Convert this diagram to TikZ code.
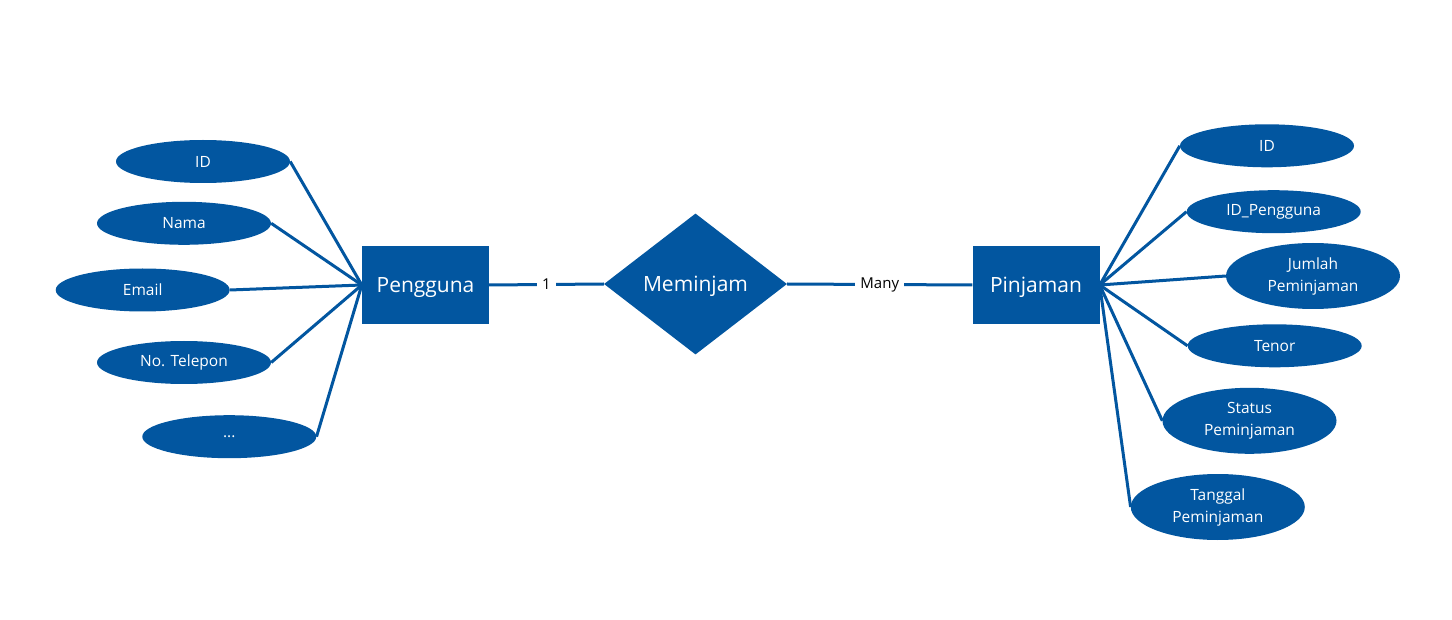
\documentclass[tikz,border=0pt]{standalone}
\usepackage{fontspec}
\setmainfont{Open Sans}
\usetikzlibrary{shapes.geometric}
\definecolor{erblue}{RGB}{2,86,160}
\tikzset{
  entity/.style={rectangle, fill=erblue, text=white, inner sep=0pt, minimum width=127pt, minimum height=78pt, text depth=0pt, font=\fontsize{21}{25}\selectfont},
  relation/.style={diamond, fill=erblue, text=white, inner sep=0pt, minimum width=183pt, minimum height=141pt, text depth=0pt, font=\fontsize{21}{25}\selectfont},
  attr/.style={ellipse, fill=erblue, text=white, inner sep=0pt, minimum width=174pt, minimum height=43pt, align=center, font=\fontsize{15.5}{22}\selectfont},
  attrtall/.style={attr, minimum height=66pt},
  conn/.style={draw=erblue, line width=3pt},
  card/.style={fill=white, text=black, inner xsep=5pt, inner ysep=2pt, font=\fontsize{15}{18}\selectfont}
}
\begin{document}
\begin{tikzpicture}[x=1pt,y=-1pt]
\useasboundingbox[fill=white] (0,0) rectangle (1452,620);
% entities and relation
\node[entity] (pg) at (425.5,285) {Pengguna};
\node[entity] (pj) at (1036,285) {Pinjaman};
\node[relation] (mp) at (695.5,284) {Meminjam};
% left attributes
\node[attr] (a1) at (203,161.5) {ID};
\node[attr] (a2) at (184,223.3) {Nama};
\node[attr] (a3) at (142.7,290) {Email};
\node[attr] (a4) at (184,362.5) {No. Telepon};
\node[attr] (a5) at (229.3,436.7) {...};
% right attributes
\node[attr] (b1) at (1267,145.8) {ID};
\node[attr] (b2) at (1273.7,211.7) {ID\_Pengguna};
\node[attrtall] (b3) at (1313,276) {Jumlah\\Peminjaman};
\node[attr] (b4) at (1274.7,345.8) {Tenor};
\node[attrtall] (b5) at (1249.5,420.8) {Status\\Peminjaman};
\node[attrtall] (b6) at (1217.8,507) {Tanggal\\Peminjaman};
% connectors
\foreach \a in {a1,a2,a3,a4,a5} \draw[conn] (\a.east) -- (pg.west);
\foreach \b in {b1,b2,b3,b4,b5,b6} \draw[conn] (pj.east) -- (\b.west);
\draw[conn] (pg.east) -- node[card] (c1) {1} (mp.west);
\draw[conn] (mp.east) -- node[card] (c2) {Many} (pj.west);
\end{tikzpicture}
\end{document}
